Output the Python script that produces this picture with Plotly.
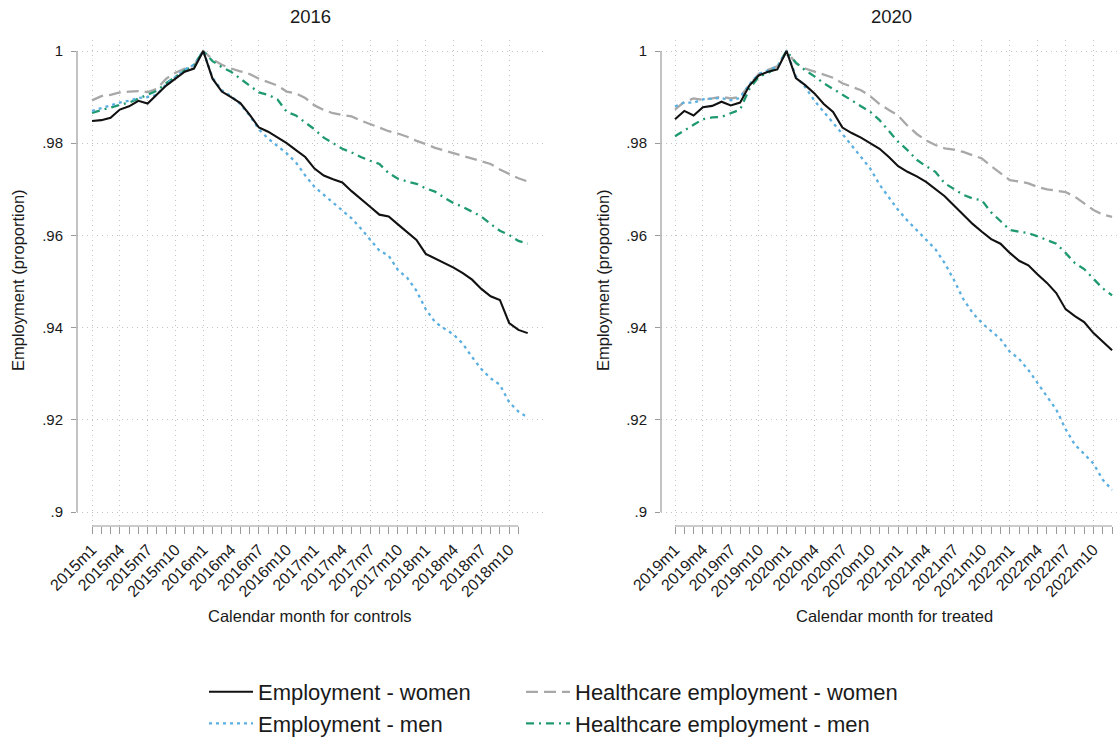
import plotly.graph_objects as go

# ---------------- data ----------------
tick_labels_controls = ["2015m1", "2015m4", "2015m7", "2015m10", "2016m1", "2016m4", "2016m7", "2016m10",
                        "2017m1", "2017m4", "2017m7", "2017m10", "2018m1", "2018m4", "2018m7", "2018m10"]
tick_labels_treated = ["2019m1", "2019m4", "2019m7", "2019m10", "2020m1", "2020m4", "2020m7", "2020m10",
                       "2021m1", "2021m4", "2021m7", "2021m10", "2022m1", "2022m4", "2022m7", "2022m10"]
month_index = list(range(48))          # months since start of window
tick_index = list(range(0, 48, 3))     # labelled months
y_ticks = [0.9, 0.92, 0.94, 0.96, 0.98, 1.0]
y_tick_labels = [".9", ".92", ".94", ".96", ".98", "1"]

# Panel "2016" (controls)
emp_women_2016 = [0.9848, 0.9850, 0.9855, 0.9873, 0.9880, 0.9892, 0.9886, 0.9906, 0.9925, 0.9940, 0.9955, 0.9962, 1.0,
                  0.9940, 0.9912, 0.9900, 0.9887, 0.9862, 0.9834, 0.9825, 0.9812, 0.9800, 0.9785, 0.9770, 0.9745,
                  0.9730, 0.9722, 0.9715, 0.9696, 0.9678, 0.9662, 0.9645, 0.9641, 0.9624, 0.9606, 0.9590, 0.9560,
                  0.9550, 0.9540, 0.9530, 0.9518, 0.9504, 0.9484, 0.9468, 0.9460, 0.9410, 0.9395, 0.9388]
emp_men_2016 = [0.9870, 0.9876, 0.9882, 0.9888, 0.9892, 0.9898, 0.9900, 0.9905, 0.9928, 0.9945, 0.9960, 0.9970, 1.0,
                0.9942, 0.9915, 0.9902, 0.9885, 0.9860, 0.9830, 0.9810, 0.9795, 0.9778,
                0.9758, 0.9730, 0.9705, 0.9688, 0.9672, 0.9653, 0.9637, 0.9615, 0.9590, 0.9567, 0.9556, 0.9525,
                0.9508, 0.9480, 0.9440, 0.9412, 0.9398, 0.9385, 0.9365, 0.9336, 0.9310, 0.9290, 0.9276, 0.9238,
                0.9218, 0.9205]
hc_women_2016 = [0.9893, 0.9902, 0.9905, 0.9910, 0.9912, 0.9913, 0.9911, 0.9918, 0.9940, 0.9953, 0.9962, 0.9968, 1.0,
                 0.9982, 0.9970, 0.9962, 0.9956, 0.9950, 0.9940, 0.9932, 0.9925, 0.9912, 0.9908, 0.9898, 0.9882,
                 0.9872, 0.9865, 0.9861, 0.9858, 0.9849, 0.9842, 0.9834, 0.9826, 0.9821, 0.9814, 0.9805, 0.9798,
                 0.9790, 0.9784, 0.9778, 0.9772, 0.9766, 0.9760, 0.9755, 0.9743, 0.9733, 0.9724, 0.9717]
hc_men_2016 = [0.9866, 0.9872, 0.9878, 0.9883, 0.9888, 0.9897, 0.9906, 0.9914, 0.9930, 0.9944, 0.9958, 0.9970, 1.0,
               0.9978, 0.9965, 0.9955, 0.9940, 0.9925, 0.9910, 0.9905, 0.9895, 0.9868, 0.9860,
               0.9845, 0.9830, 0.9812, 0.9800, 0.9788, 0.9780, 0.9770, 0.9762, 0.9755, 0.9735, 0.9723, 0.9717,
               0.9712, 0.9702, 0.9695, 0.9682, 0.9670, 0.9662, 0.9652, 0.9641, 0.9625, 0.9610, 0.9601, 0.9588,
               0.9582]

# Panel "2020" (treated)
emp_women_2020 = [0.9852, 0.9870, 0.9860, 0.9878, 0.9881, 0.9890, 0.9882, 0.9888, 0.9925, 0.9947, 0.9955, 0.9960, 1.0,
                  0.9941, 0.9926, 0.9908, 0.9885, 0.9868, 0.9834, 0.9822, 0.9812, 0.9800, 0.9788, 0.9770, 0.9750,
                  0.9738, 0.9728, 0.9716, 0.9700, 0.9685, 0.9665, 0.9645, 0.9625, 0.9608, 0.9592, 0.9582, 0.9562,
                  0.9545, 0.9535, 0.9515, 0.9497, 0.9475, 0.9440, 0.9425, 0.9412, 0.9388, 0.9370, 0.9351]
emp_men_2020 = [0.9880, 0.9888, 0.9888, 0.9895, 0.9897, 0.9898, 0.9893, 0.9898, 0.9928, 0.9950, 0.9958, 0.9966, 1.0,
                0.9945, 0.9922, 0.9892, 0.9868, 0.9845, 0.9820, 0.9795, 0.9770, 0.9745, 0.9710, 0.9682, 0.9655,
                0.9632, 0.9612, 0.9592, 0.9570, 0.9540, 0.9503, 0.9462, 0.9432, 0.9410, 0.9393, 0.9375, 0.9348,
                0.9332, 0.9308, 0.9280, 0.9252, 0.9222, 0.9180, 0.9146, 0.9126, 0.9105, 0.9070, 0.9048]
hc_women_2020 = [0.9873, 0.9890, 0.9897, 0.9894, 0.9897, 0.9901, 0.9897, 0.9901, 0.9926, 0.9950, 0.9959, 0.9967, 1.0,
                 0.9973, 0.9962, 0.9955, 0.9948, 0.9942, 0.9930, 0.9922, 0.9915, 0.9902, 0.9885, 0.9872, 0.9860,
                 0.9838, 0.9820, 0.9806, 0.9796, 0.9789, 0.9786, 0.9781, 0.9774, 0.9767, 0.9750, 0.9735, 0.9720,
                 0.9717, 0.9713, 0.9705, 0.9700, 0.9697, 0.9694, 0.9684, 0.9670, 0.9655, 0.9645, 0.9640]
hc_men_2020 = [0.9815, 0.9828, 0.9840, 0.9852, 0.9856, 0.9857, 0.9865, 0.9873, 0.9918, 0.9944, 0.9952, 0.9966, 1.0,
               0.9975, 0.9958, 0.9945, 0.9930, 0.9918, 0.9905, 0.9893, 0.9880, 0.9868, 0.9850, 0.9827, 0.9803,
               0.9785, 0.9764, 0.9750, 0.9738, 0.9713, 0.9700, 0.9688, 0.9680, 0.9676, 0.9650, 0.9630, 0.9612,
               0.9608, 0.9605, 0.9598, 0.9590, 0.9582, 0.9562, 0.9540, 0.9527, 0.9505, 0.9485, 0.9470]

series_names = ["Employment - women", "Employment - men",
                "Healthcare employment - women", "Healthcare employment - men"]

# ---------------- styles ----------------
W, H = 1117, 738
FONT = "Liberation Sans, Arial, Helvetica, sans-serif"
TXT = "#1a1a1a"
AX = "#9a9a9a"
GRID = "#c4c4c4"

styles = {
    "Employment - women": dict(color="#111111", width=2.1, dash="solid"),
    "Employment - men": dict(color="#5aafe0", width=2.3, dash="3px,4px"),
    "Healthcare employment - women": dict(color="#a8a8a8", width=2.3, dash="12px,6px"),
    "Healthcare employment - men": dict(color="#1f9a70", width=2.3, dash="8px,5px,2px,5px"),
}
legend_of = {
    "Employment - women": "legend",
    "Employment - men": "legend",
    "Healthcare employment - women": "legend2",
    "Healthcare employment - men": "legend2",
}

fig = go.Figure()
panels = [
    ("x", "y", [emp_women_2016, emp_men_2016, hc_women_2016, hc_men_2016], True),
    ("x2", "y2", [emp_women_2020, emp_men_2020, hc_women_2020, hc_men_2020], False),
]
draw_order = [2, 3, 1, 0]
for xa, ya, data, show in panels:
    for k in draw_order:
        name = series_names[k]
        fig.add_trace(go.Scatter(
            x=month_index, y=data[k], mode="lines", name=name,
            line=styles[name], xaxis=xa, yaxis=ya,
            showlegend=show, legend=legend_of[name],
            legendrank=k,
        ))

def xaxis_cfg(domain, rng, labels, n_minor):
    return dict(
        domain=domain, range=rng, tickmode="array", tickvals=tick_index, ticktext=labels,
        tickangle=-45, ticks="outside", ticklen=7, tickwidth=1, tickcolor=AX,
        tickfont=dict(size=16, color=TXT, family=FONT),
        showgrid=True, gridcolor=GRID, griddash="1px,4px", gridwidth=1,
        minor=dict(tickmode="array", tickvals=list(range(n_minor)), ticks="outside",
                   ticklen=7, tickwidth=1, tickcolor=AX, showgrid=False),
        showline=False, zeroline=False, fixedrange=True, automargin=False,
    )

def yaxis_cfg(domain, rng, anchor):
    return dict(
        domain=domain, range=rng, anchor=anchor, tickmode="array", tickvals=y_ticks,
        ticktext=y_tick_labels, ticks="outside", ticklen=5, tickwidth=1, tickcolor=AX,
        tickfont=dict(size=15, color=TXT, family=FONT), ticklabelstandoff=5,
        showgrid=True, gridcolor=GRID, griddash="1px,4px", gridwidth=1,
        showline=False, zeroline=False, fixedrange=True, automargin=False,
    )

ydom = [(H - 526) / H, (H - 40) / H]
yrng = [1 - (526 - 51) / 4610, 1 + 11 / 4610]

legend_font = dict(size=22, color=TXT, family=FONT)
fig.update_layout(
    template="none",
    width=W, height=H, margin=dict(l=0, r=0, t=0, b=0, autoexpand=False),
    paper_bgcolor="white", plot_bgcolor="white",
    font=dict(family=FONT, color=TXT),
    xaxis=dict(anchor="y", **xaxis_cfg([77 / W, 543 / W], [-1.62, 48.65], tick_labels_controls, 47)),
    yaxis=yaxis_cfg(ydom, yrng, "x"),
    xaxis2=dict(anchor="y2", **xaxis_cfg([661 / W, 1.0], [-1.505, 47.53], tick_labels_treated, 48)),
    yaxis2=yaxis_cfg(ydom, yrng, "x2"),
    legend=dict(x=204 / W, y=(H - 671) / H, xanchor="left", yanchor="top",
                orientation="v", font=legend_font, itemwidth=44,
                bgcolor="rgba(0,0,0,0)", traceorder="normal"),
    legend2=dict(x=521 / W, y=(H - 671) / H, xanchor="left", yanchor="top",
                 orientation="v", font=legend_font, itemwidth=44,
                 bgcolor="rgba(0,0,0,0)", traceorder="normal"),
    showlegend=True,
)

shapes = [
    dict(type="line", xref="x domain", yref="y", x0=0, x1=0, y0=0.9, y1=1.0, line=dict(color=AX, width=1.2)),
    dict(type="line", xref="x2 domain", yref="y2", x0=0, x1=0, y0=0.9, y1=1.0, line=dict(color=AX, width=1.2)),
    dict(type="line", xref="x", yref="y domain", x0=0, x1=46, y0=0, y1=0, line=dict(color=AX, width=1.2)),
    dict(type="line", xref="x2", yref="y2 domain", x0=0, x1=47, y0=0, y1=0, line=dict(color=AX, width=1.2)),
]
fig.update_layout(shapes=shapes)

annotations = [
    dict(text="2016", x=310 / W, y=(H - 17) / H, font=dict(size=18.5)),
    dict(text="2020", x=891 / W, y=(H - 17) / H, font=dict(size=18.5)),
    dict(text="Calendar month for controls", x=310 / W, y=(H - 616) / H, font=dict(size=16.5)),
    dict(text="Calendar month for treated", x=894 / W, y=(H - 616) / H, font=dict(size=16.5)),
    dict(text="Employment (proportion)", x=18 / W, y=(H - 280) / H, textangle=-90, font=dict(size=16.5)),
    dict(text="Employment (proportion)", x=603 / W, y=(H - 280) / H, textangle=-90, font=dict(size=16.5)),
]
for a in annotations:
    a.update(xref="paper", yref="paper", showarrow=False, xanchor="center", yanchor="middle")
    a["font"].update(color=TXT, family=FONT)
fig.update_layout(annotations=annotations)

fig.write_html("out.html", config={"displayModeBar": False, "staticPlot": True},
               post_script="document.body.style.margin='0';document.body.style.overflow='hidden';")
